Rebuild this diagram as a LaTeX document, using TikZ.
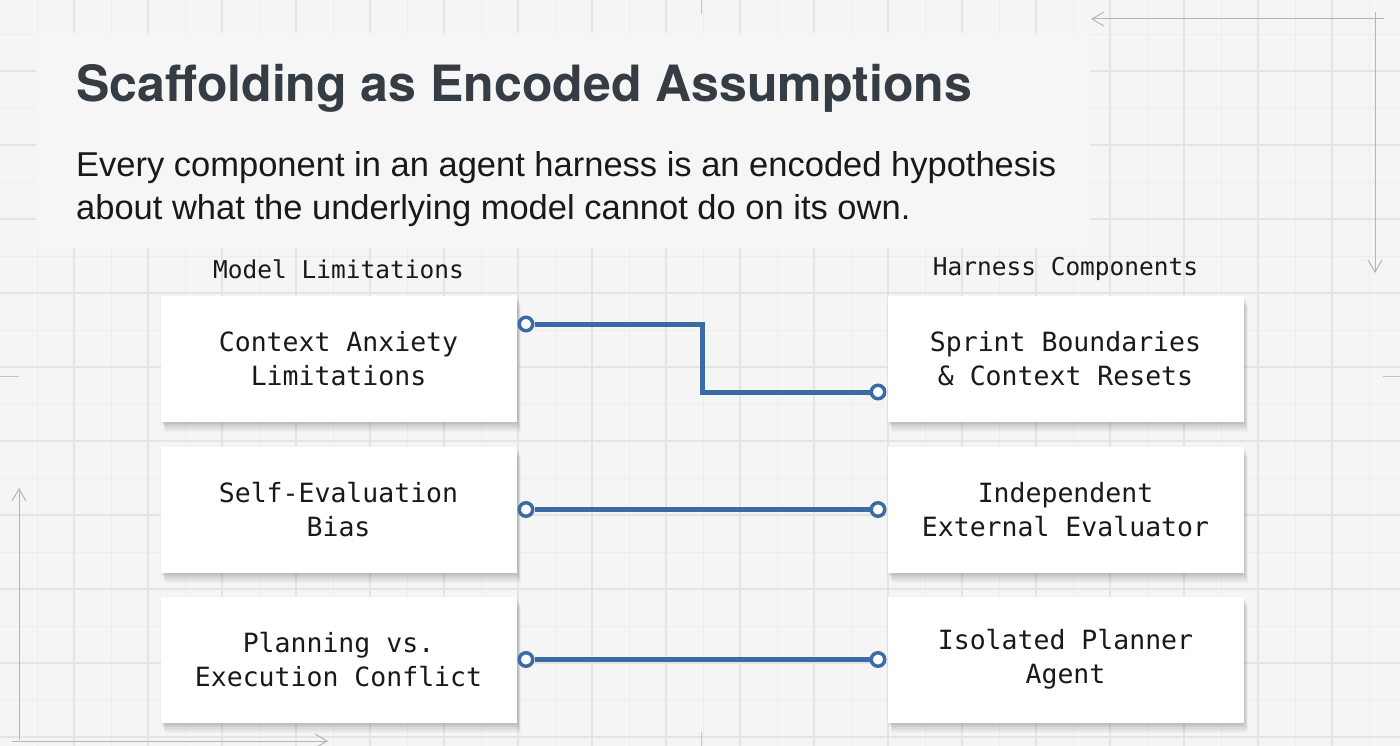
\documentclass[tikz,border=0pt]{standalone}
\usepackage{fontspec}
\setmainfont{Liberation Sans}
\newfontfamily\monof{DejaVu Sans Mono}
\newfontfamily\titlef{TeX Gyre Heros}
\usetikzlibrary{arrows.meta,calc}
\definecolor{bgc}{HTML}{F5F5F5}
\definecolor{panelc}{HTML}{F6F6F6}
\definecolor{minorc}{HTML}{EDEDED}
\definecolor{majorc}{HTML}{E4E4E4}
\definecolor{titlec}{HTML}{363C43}
\definecolor{linkc}{HTML}{3B6BA5}
\definecolor{arrowc}{HTML}{B4B4B4}
\begin{document}
\begin{tikzpicture}[x=1pt,y=-1pt,
  minorline/.style={draw=minorc, line width=0.8pt},
  majorline/.style={draw=majorc, line width=1.1pt},
  panel/.style={fill=panelc},
  titletext/.style={anchor=base west, inner sep=0, text=titlec, font=\titlef\bfseries\fontsize{50}{60}\selectfont},
  subtext/.style={anchor=base west, inner sep=0, text=black!90, font=\fontsize{34.5}{42}\selectfont},
  headtext/.style={inner sep=0, text=black!90, font=\monof\fontsize{24.5}{30}\selectfont},
  card/.style={fill=white, minimum width=356pt, minimum height=126pt, inner sep=0, align=center,
    text=black!90, font=\monof\fontsize{26.5}{34}\selectfont,
    preaction={fill=black, opacity=0.045, transform canvas={xshift=1pt,yshift=-2pt}},
    preaction={fill=black, opacity=0.045, transform canvas={xshift=2pt,yshift=-4pt}},
    preaction={fill=black, opacity=0.045, transform canvas={xshift=3pt,yshift=-6pt}},
    preaction={fill=black, opacity=0.04, transform canvas={xshift=3pt,yshift=-8pt}},
    preaction={fill=black, opacity=0.03, transform canvas={xshift=4pt,yshift=-10pt}},
    preaction={fill=black, opacity=0.025, transform canvas={xshift=-1pt,yshift=-3pt}}},
  port/.style={circle, draw=linkc, line width=3.5pt, fill=white, minimum size=13.5pt, inner sep=0},
  link/.style={draw=linkc, line width=5pt},
  guide/.style={draw=arrowc, line width=1pt, -{Straight Barb[length=12pt,width=14pt,line width=1pt]}},
  tick/.style={draw=arrowc!80, line width=1pt}
]
\fill[bgc] (0,0) rectangle (1400,746);
\useasboundingbox (0,0) rectangle (1400,746);
% grid
\foreach \x in {37,74,...,1369} \draw[minorline] (\x,0) -- (\x,746);
\foreach \y in {34,71,...,740} \draw[minorline] (0,\y) -- (1400,\y);
\foreach \x in {74,148,...,1332} \draw[majorline] (\x,0) -- (\x,746);
\foreach \y in {71,145,...,740} \draw[majorline] (0,\y) -- (1400,\y);
% title panel
\fill[panel] (36,33) rectangle (1090,248);

% decorative guides
\coordinate (ta) at (1384,19); \coordinate (tb) at (1091,19);
\coordinate (va) at (1375,12); \coordinate (vb) at (1375,273);
\coordinate (la) at (19,740); \coordinate (lb) at (19,488);
\coordinate (ha) at (12,741); \coordinate (hb) at (328,741);
\draw[guide] (ta) -- (tb);
\draw[guide] (va) -- (vb);
\draw[guide] (la) -- (lb);
\draw[guide] (ha) -- (hb);
\coordinate (k1) at (0,376); \coordinate (k2) at (19,376);
\coordinate (k3) at (1383,376); \coordinate (k4) at (1400,376);
\coordinate (k5) at (701,0); \coordinate (k6) at (701,14);
\coordinate (k7) at (701,732); \coordinate (k8) at (701,746);
\draw[tick] (k1) -- (k2);
\draw[tick] (k3) -- (k4);
\draw[tick] (k5) -- (k6);
\draw[tick] (k7) -- (k8);

% texts
\node[titletext] (title) at (76,102) {Scaffolding as Encoded Assumptions};
\node[subtext] (sub1) at (76,177) {Every component in an agent harness is an encoded hypothesis};
\node[subtext] (sub2) at (76,219) {about what the underlying model cannot do on its own.};

\node[headtext] (hl) at (338.5,269) {Model Limitations};
\node[headtext] (hr) at (1065.5,269) {Harness Components};

% cards
\node[card] (l1) at (338.5,359) {Context Anxiety\\Limitations};
\node[card] (l2) at (338.5,509.5) {Self-Evaluation\\Bias};
\node[card] (l3) at (338.5,659.5) {Planning vs.\\Execution Conflict};
\node[card] (r1) at (1065.5,359) {Sprint Boundaries\\\&~Context Resets};
\node[card] (r2) at (1065.5,509.5) {Independent\\External Evaluator};
\node[card] (r3) at (1065.5,659.5) {Isolated Planner\\Agent};

% ports
\node[port] (p1a) at (526,324) {};
\node[port] (p1b) at (878,392) {};
\node[port] (p2a) at (526,509.5) {};
\node[port] (p2b) at (878,509.5) {};
\node[port] (p3a) at (526,659.5) {};
\node[port] (p3b) at (878,659.5) {};

\coordinate (m1) at (702,358);
\draw[link] (p1a.east) -| (m1) |- (p1b.west);
\draw[link] (p2a.east) -- (p2b.west);
\draw[link] (p3a.east) -- (p3b.west);
\end{tikzpicture}
\end{document}
